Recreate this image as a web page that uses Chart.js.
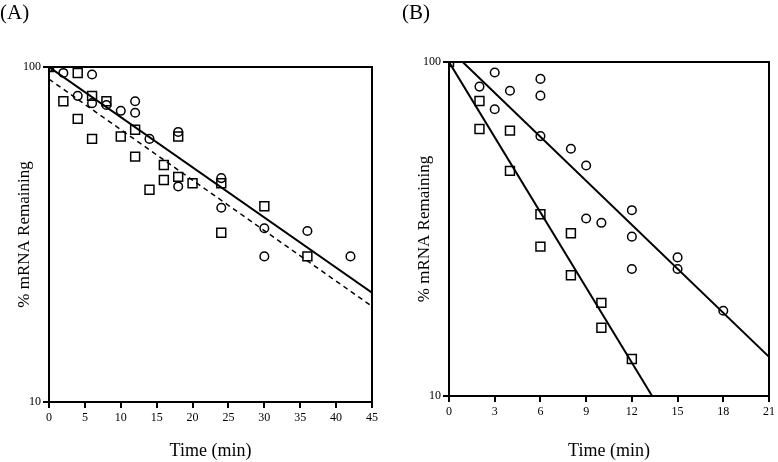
<!DOCTYPE html>
<html>
<head>
<meta charset="utf-8">
<script src="https://cdn.jsdelivr.net/npm/chart.js@4/dist/chart.umd.min.js"></script>
<style>
  body { margin: 0; background: #fff; }
  .panel { position: absolute; top: 0; height: 462px; }
  #panelA { left: 0; width: 390px; }
  #panelB { left: 402px; width: 376px; }
</style>
</head>
<body>
<div class="panel" id="panelA"><canvas id="chartA"></canvas></div>
<div class="panel" id="panelB"><canvas id="chartB"></canvas></div>
<script>
// Panel A data (time in min, % mRNA remaining)
const circlesA = [
  [0, 100], [2, 96], [6, 95], [4, 82], [6, 78], [8, 77], [10, 74], [12, 79], [12, 73],
  [14, 61], [18, 64], [18, 44], [24, 46.6], [24, 38], [30, 33], [30, 27.2], [36, 32.4], [42, 27.2]
];
const squaresA = [
  [0, 100], [2, 79], [4, 96], [4, 70], [6, 82], [6, 61], [8, 79], [10, 62], [12, 65],
  [12, 54], [14, 43], [16, 51], [16, 46], [18, 62], [18, 47], [20, 45], [24, 45], [24, 32],
  [30, 38.4], [36, 27.2]
];
const fitSolidA = [[0, 100], [45, 21.2]];
const fitDashedA = [[0, 92], [45, 19.3]];

// Panel B data
const circlesB = [
  [3, 93], [6, 89], [2, 84.4], [4, 82], [6, 79.3], [3, 72.2], [6, 60], [8, 55], [9, 49],
  [9, 34], [10, 33], [12, 36], [12, 30], [15, 26], [15, 24], [12, 24], [18, 18]
];
const squaresB = [
  [0, 100], [2, 76.4], [2, 63], [4, 62.3], [4, 47.2], [6, 35], [8, 30.7], [6, 28],
  [8, 23], [10, 19], [10, 16], [12, 12.9]
];
const fitCirclesB = [[0.9, 100], [21, 13.1]];
const fitSquaresB = [[0, 100], [13.33, 10]];

const yTicks = [10, 100];
const serif = '"Liberation Serif", "Times New Roman", serif';

const toXY = arr => arr.map(p => ({ x: p[0], y: p[1] }));

// frame around the plot area
const framePlugin = {
  id: 'frame',
  afterDraw(chart) {
    const a = chart.chartArea;
    const ctx = chart.ctx;
    ctx.save();
    ctx.strokeStyle = '#000';
    ctx.lineWidth = 2;
    ctx.strokeRect(a.left, a.top, a.right - a.left, a.bottom - a.top);
    ctx.restore();
  }
};

function pointSet(data, style, radius) {
  return {
    data: toXY(data),
    pointStyle: style,
    pointRadius: radius,
    pointBorderWidth: 1.5,
    pointBorderColor: '#000',
    pointBackgroundColor: 'rgba(0,0,0,0)',
    showLine: false
  };
}

function lineSet(data, dash) {
  return {
    data: toXY(data),
    showLine: true,
    borderColor: '#000',
    borderWidth: dash ? 1.5 : 2,
    borderDash: dash || [],
    pointRadius: 0
  };
}

function makeChart(id, opts) {
  new Chart(document.getElementById(id).getContext('2d'), {
    type: 'scatter',
    data: { datasets: opts.datasets },
    options: {
      responsive: true,
      maintainAspectRatio: false,
      animation: false,
      layout: { padding: { left: 0, right: opts.padRight, bottom: 0, top: 0 } },
      plugins: {
        legend: { display: false },
        tooltip: { enabled: false },
        title: {
          display: true,
          text: opts.label,
          align: 'start',
          color: '#000',
          font: { family: serif, size: 21, weight: 'normal' },
          padding: { top: opts.titleTop, bottom: opts.titleBottom }
        }
      },
      scales: {
        x: {
          type: 'linear',
          min: 0,
          max: opts.xMax,
          afterBuildTicks: s => { s.ticks = opts.xTicks.map(v => ({ value: v })); },
          afterFit: s => { s.height = opts.xHeight; },
          ticks: { color: '#000', font: { family: serif, size: 12 }, padding: 3, maxRotation: 0 },
          grid: { drawOnChartArea: false, drawTicks: true, tickLength: 6, color: '#000', lineWidth: 2 },
          border: { color: '#000', width: 2 },
          title: {
            display: true,
            text: 'Time (min)',
            color: '#000',
            font: { family: serif, size: 18 },
            padding: { top: 0, bottom: 0 }
          }
        },
        y: {
          type: 'logarithmic',
          min: 10,
          max: 100,
          afterBuildTicks: s => { s.ticks = yTicks.map(v => ({ value: v })); },
          afterFit: s => { s.width = opts.yWidth; },
          ticks: { color: '#000', font: { family: serif, size: 12 }, padding: 2, callback: v => String(v) },
          grid: { drawOnChartArea: false, drawTicks: true, tickLength: 6, color: '#000', lineWidth: 2 },
          border: { color: '#000', width: 2 },
          title: {
            display: true,
            text: '% mRNA Remaining',
            color: '#000',
            font: { family: serif, size: 17 },
            padding: { top: opts.yTitlePad, bottom: 0 }
          }
        }
      }
    },
    plugins: [framePlugin]
  });
}

document.addEventListener('DOMContentLoaded', () => {
  makeChart('chartA', {
    label: '(A)',
    titleTop: 1,
    titleBottom: 40.8,
    padRight: 18,
    xMax: 45,
    xTicks: [0, 5, 10, 15, 20, 25, 30, 35, 40, 45],
    xHeight: 60,
    yWidth: 49,
    yTitlePad: 14,
    datasets: [
      lineSet(fitSolidA),
      lineSet(fitDashedA, [5, 4]),
      pointSet(circlesA, 'circle', 4.3),
      pointSet(squaresA, 'rect', 6.3)
    ]
  });

  makeChart('chartB', {
    label: '(B)',
    titleTop: 1,
    titleBottom: 35.8,
    padRight: 6,
    xMax: 21,
    xTicks: [0, 3, 6, 9, 12, 15, 18, 21],
    xHeight: 66,
    yWidth: 47,
    yTitlePad: 12,
    datasets: [
      lineSet(fitCirclesB),
      lineSet(fitSquaresB),
      pointSet(circlesB, 'circle', 4.3),
      pointSet(squaresB, 'rect', 6.3)
    ]
  });
});
</script>
</body>
</html>
